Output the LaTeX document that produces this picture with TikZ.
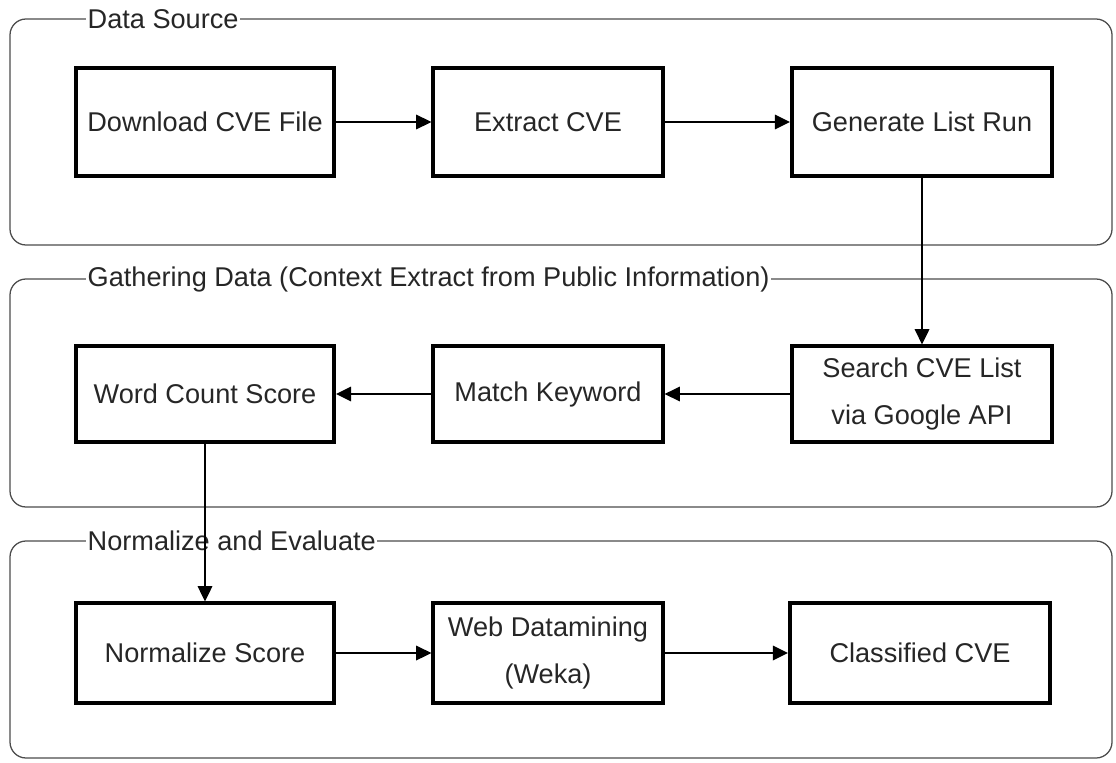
\documentclass[tikz,border=0pt]{standalone}
\usepackage{fontspec}
\setmainfont{Liberation Sans}
\usetikzlibrary{arrows.meta}
\begin{document}
\begin{tikzpicture}[x=0.025cm,y=-0.025cm]
\tikzstyle{arrow}=[-{Triangle[length=0.38cm,width=0.36cm]}, line width=1.5pt]
\tikzstyle{group}=[draw=black!70, line width=0.9pt, rounded corners=0.4cm]
\tikzstyle{title}=[anchor=west, fill=white, inner sep=1pt, text=black!85, font=\fontsize{19.3}{22}\selectfont]
\tikzstyle{box}=[draw, line width=2.8pt, text=black!85, align=center, font=\fontsize{19.3}{34}\selectfont]
\useasboundingbox (0,0) rectangle (1116,762);

% groups
\draw[group] (10,19) rectangle (1112,245);
\draw[group] (10,279) rectangle (1112,507);
\draw[group] (10,541) rectangle (1112,758);
\draw node[title] (T1) at (86,19) {Data Source};
\draw node[title] (T2) at (86,279) {Gathering Data (Context Extract from Public Information)};
\draw node[title] (T3) at (86,541) {Normalize and Evaluate};

% data source
\draw node[box, minimum width=6.45cm, minimum height=2.7cm] (D) at (205,122) {Download CVE File};
\draw node[box, minimum width=5.73cm, minimum height=2.7cm] (E) at (548,122) {Extract CVE};
\draw node[box, minimum width=6.5cm, minimum height=2.7cm] (G) at (922,122) {Generate List Run};

% gathering data
\draw node[box, minimum width=6.45cm, minimum height=2.38cm] (W) at (205,394) {Word Count Score};
\draw node[box, minimum width=5.73cm, minimum height=2.38cm] (M) at (548,394) {Match Keyword};
\draw node[box, minimum width=6.5cm, minimum height=2.38cm] (S) at (922,394) {Search CVE List\\via Google API};

% normalize and evaluate
\draw node[box, minimum width=6.45cm, minimum height=2.48cm] (N) at (205,653) {Normalize Score};
\draw node[box, minimum width=5.73cm, minimum height=2.48cm] (K) at (548,653) {Web Datamining\\(Weka)};
\draw node[box, minimum width=6.5cm, minimum height=2.48cm] (C) at (920,653) {Classified CVE};

\draw[arrow] (D) -- (E);
\draw[arrow] (E) -- (G);
\draw[arrow] (G) -- (S);
\draw[arrow] (S) -- (M);
\draw[arrow] (M) -- (W);
\draw[arrow] (W) -- (N);
\draw[arrow] (N) -- (K);
\draw[arrow] (K) -- (C);


\end{tikzpicture}
\end{document}
